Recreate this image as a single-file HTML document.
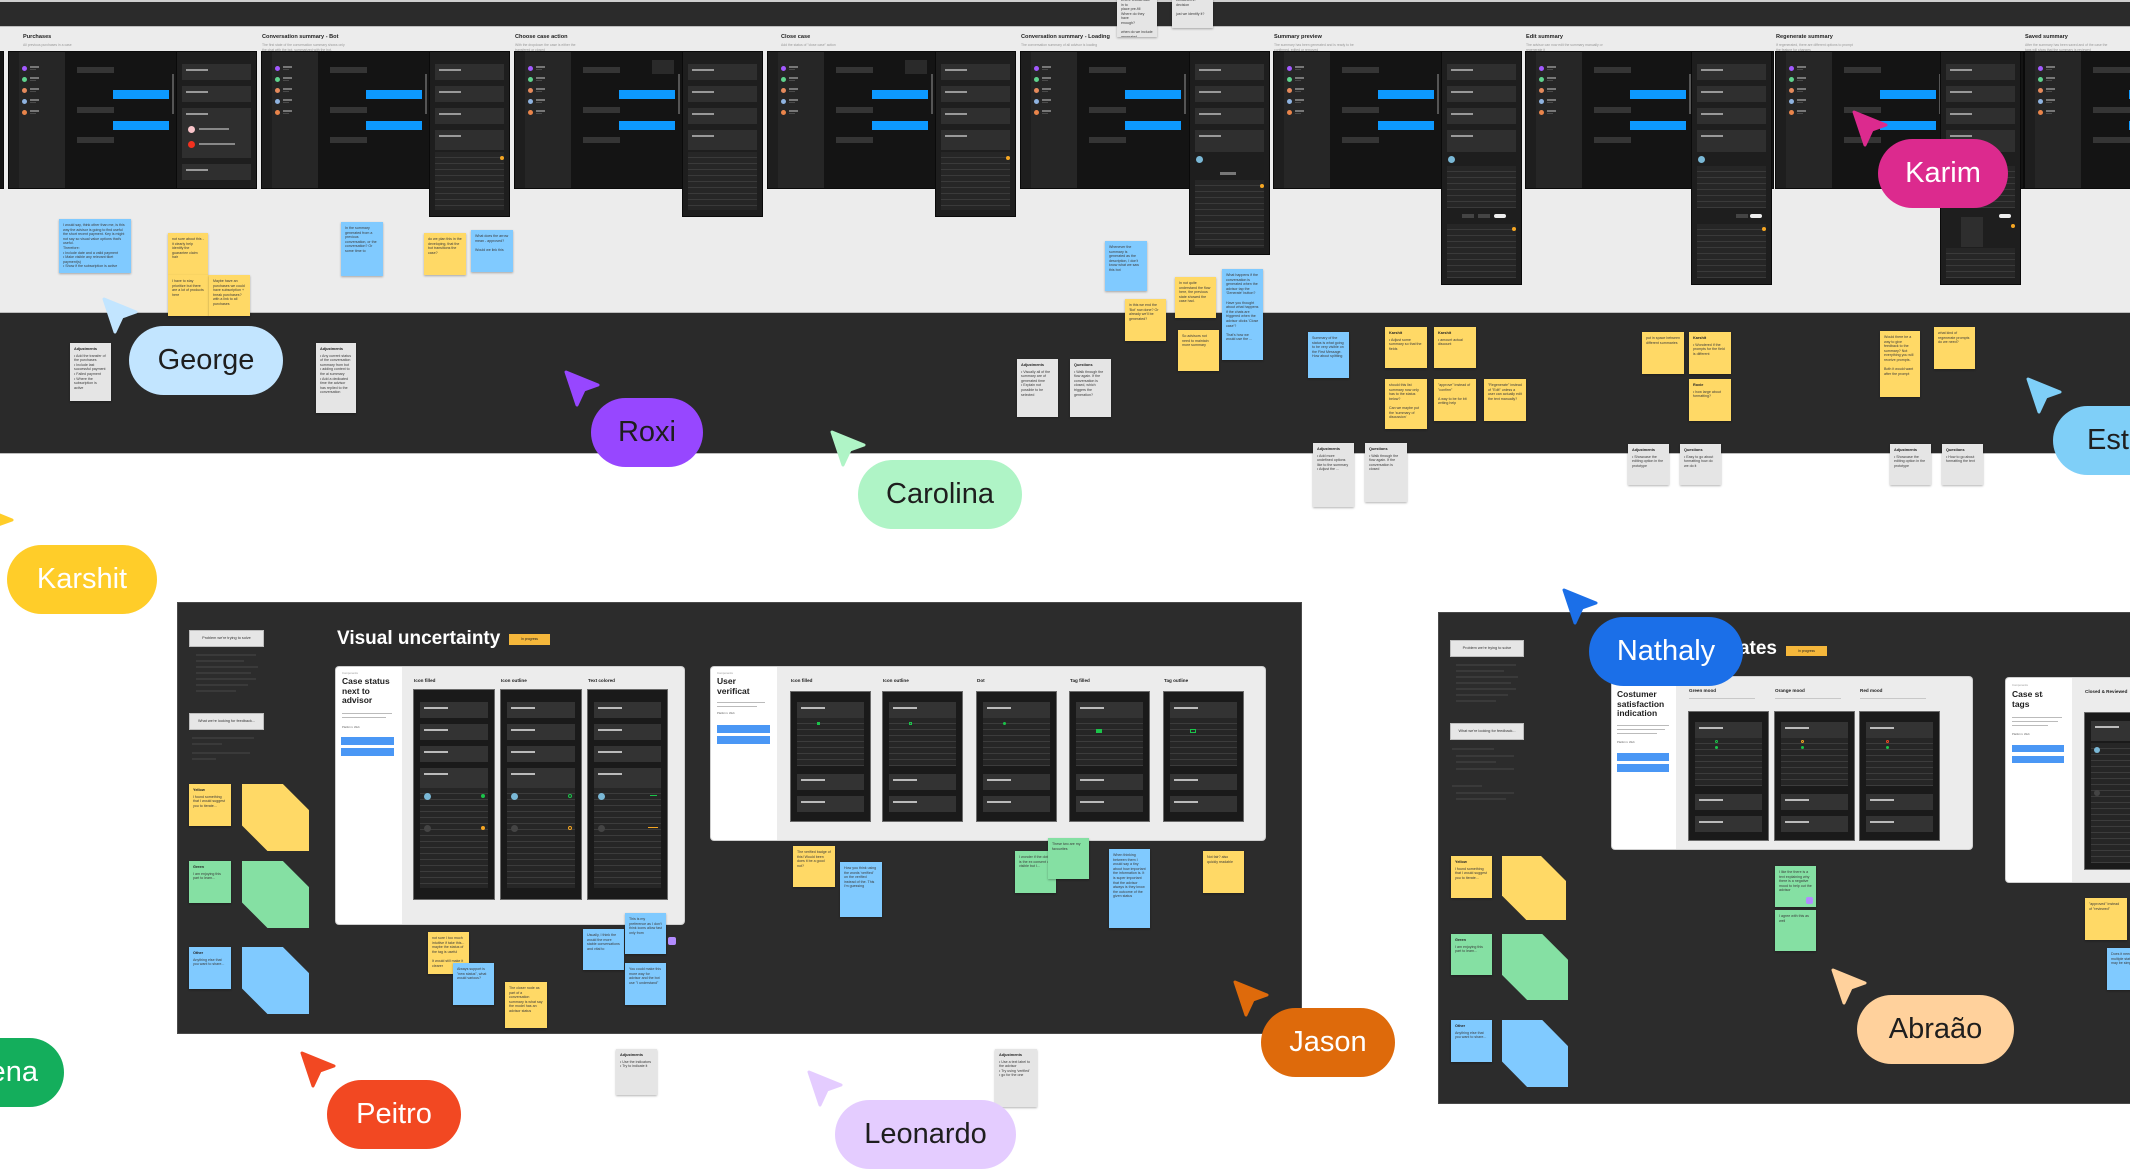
<!DOCTYPE html>
<html><head><meta charset="utf-8"><style>
*{box-sizing:border-box}
body{margin:0;width:2130px;height:1166px;overflow:hidden;position:relative;background:#fff;font-family:"Liberation Sans",sans-serif}
.a{position:absolute}
.s{position:absolute;box-shadow:0 1px 2px rgba(0,0,0,.3);font-size:3.6px;line-height:4.6px;color:#3a3a3a;padding:4px;overflow:hidden}
.y{background:#ffd966}.b{background:#80caff}.g{background:#85e0a3}.n{background:#e5e5e5}
.s b{display:block;font-size:3.8px;margin-bottom:2px;color:#222}
.stk{position:absolute;clip-path:polygon(0 0,61% 0,100% 39%,100% 100%,38% 100%,0 62%)}
.ft{position:absolute;top:34px;font-size:5.6px;font-weight:bold;color:#222;white-space:nowrap}
.fs{position:absolute;top:43px;font-size:3.4px;color:#999;white-space:nowrap;line-height:4.5px}
.scr{position:absolute;top:52px;width:247px;height:136px;background:#141414;box-shadow:0 0 0 1px #0a0a0a}
.scr i,.rp i,.ph i{position:absolute;display:block}
.scr .r{left:0;top:0;width:10px;height:136px;background:#1e1e1e}
.scr .l{left:10px;top:0;width:46px;height:136px;background:#262626}
.scr .l b{position:absolute;left:3px;width:5px;height:5px;border-radius:50%}
.scr .l b::after{content:"";position:absolute;left:8px;top:0;width:9px;height:1.5px;background:#777}
.scr .l b::before{content:"";position:absolute;left:8px;top:3px;width:6px;height:1px;background:#4a4a4a}
.scr .gb{left:68px;width:37px;height:6px;background:#353535}
.scr .bb{left:104px;width:56px;height:9px;background:#0d99ff}
.scr .sb{left:163px;top:22px;width:1.5px;height:40px;background:#555}
.rp{position:absolute;top:52px;width:79px;background:#1e1e1e;box-shadow:0 0 0 1px #0a0a0a}
.rp .c{left:5px;width:69px;height:16px;background:#2f2f2f}
.rp .c::after{content:"";position:absolute;left:4px;top:5px;width:22px;height:2px;background:#999}
.rp .k{left:5px;width:69px;background:#262626;background-image:repeating-linear-gradient(#262626 0 5px,#3a3a3a 5px 6px)}
.fr{position:absolute;background:#2c2c2c;border:1px solid #4a4a4a}
.pb{position:absolute;width:75px;height:17px;background:#e6e6e6;border:1px solid #bdbdbd;font-size:3.8px;color:#333;text-align:center;line-height:15px;white-space:nowrap}
.fl{position:absolute;height:2px;background:#3a3a3a}
.cd{position:absolute;background:#ececec;border-radius:3px;box-shadow:0 0 0 1px #cfcfcf;overflow:hidden}
.cd .w{position:absolute;left:0;top:0;bottom:0;background:#fff}
.ct{position:absolute;font-size:8.5px;line-height:9.7px;font-weight:bold;color:#1e1e1e;white-space:nowrap;overflow:hidden}
.cl{position:absolute;font-size:4.6px;font-weight:bold;color:#222;white-space:nowrap}
.tiny{position:absolute;font-size:2.8px;color:#999;white-space:nowrap}
.btn{position:absolute;width:53px;height:8px;background:#4a97f5}
.ph{position:absolute;background:#1a1a1a;box-shadow:0 0 0 1px #6a6a6a}
.ph .c{left:6px;right:6px;height:16px;background:#333}
.ph .c::after{content:"";position:absolute;left:4px;top:5px;width:24px;height:2px;background:#bbb}
.ph .k{left:6px;right:6px;background:#262626;background-image:repeating-linear-gradient(#262626 0 5px,#3c3c3c 5px 6px)}
.tag{position:absolute;background:#f5b73b;font-size:3.4px;color:#222;text-align:center;white-space:nowrap}
.p{position:absolute;height:69px;border-radius:35px;font-size:29px;line-height:69px;text-align:center;white-space:nowrap;overflow:hidden}
</style></head><body>

<!-- top dark band -->
<div class="a" style="left:0;top:0;width:2130px;height:2px;background:#cfcfcf"></div>
<div class="a" style="left:0;top:2px;width:2130px;height:24px;background:#2b2b2b"></div>
<!-- light band -->
<div class="a" style="left:0;top:26px;width:2130px;height:286px;background:#ececec;border-top:1px solid #bdbdbd"></div>
<!-- middle dark band -->
<div class="a" style="left:0;top:312px;width:2130px;height:142px;background:#2a2a2a;border-top:1px solid #bdbdbd;border-bottom:1px solid #bdbdbd"></div>

<!-- frame titles -->
<div class="ft" style="left:23px">Purchases</div><div class="fs" style="left:23px">All previous purchases in a case</div>
<div class="ft" style="left:262px">Conversation summary - Bot</div><div class="fs" style="left:262px">The first state of the conversation summary shows only<br>the chat with the bot, summarized with the bot.</div>
<div class="ft" style="left:515px">Choose case action</div><div class="fs" style="left:515px">With the dropdown the case is either the<br>transfered or closed</div>
<div class="ft" style="left:781px">Close case</div><div class="fs" style="left:781px">Add the status of "close case" action</div>
<div class="ft" style="left:1021px">Conversation summary - Loading</div><div class="fs" style="left:1021px">The conversation summary of all advisor is loading</div>
<div class="ft" style="left:1274px">Summary preview</div><div class="fs" style="left:1274px">The summary has been generated and is ready to be<br>confirmed, edited or removed</div>
<div class="ft" style="left:1526px">Edit summary</div><div class="fs" style="left:1526px">The advisor can now edit the summary manually or<br>regenerate it</div>
<div class="ft" style="left:1776px">Regenerate summary</div><div class="fs" style="left:1776px">If regenerated, there are different options to prompt<br>the feature for changes</div>
<div class="ft" style="left:2025px">Saved summary</div><div class="fs" style="left:2025px">After the summary has been saved and of the case the<br>tags will show that the summary is reviewed</div>

<!-- screens -->
<div class="scr" style="left:-244px"><i class="r"></i><i class="l"><b style="top:14px;background:#a259ff"></b><b style="top:25px;background:#5fd38d"></b><b style="top:36px;background:#e58a5c"></b></i><i class="gb" style="top:15px"></i><i class="bb" style="top:38px"></i></div>

<div class="scr" style="left:9px"><i class="r"></i><i class="l"><b style="top:14px;background:#a259ff"></b><b style="top:25px;background:#5fd38d"></b><b style="top:36px;background:#e58a5c"></b><b style="top:47px;background:#8fb3e0"></b><b style="top:58px;background:#e9844a"></b></i><i class="gb" style="top:15px"></i><i class="bb" style="top:38px"></i><i class="gb" style="top:55px"></i><i class="bb" style="top:69px"></i><i class="gb" style="top:85px"></i><i class="sb"></i></div>
<div class="rp" style="left:177px;height:136px"><i class="c" style="top:12px"></i><i class="c" style="top:34px"></i><i class="c" style="top:56px;height:50px"></i><i style="left:11px;top:74px;width:7px;height:7px;border-radius:50%;background:#f9c4c9"></i><i style="left:11px;top:89px;width:7px;height:7px;border-radius:50%;background:#f2311f"></i><i style="left:22px;top:76px;width:30px;height:2px;background:#888"></i><i style="left:22px;top:91px;width:36px;height:2px;background:#888"></i><i class="c" style="top:112px"></i></div>

<div class="scr" style="left:262px"><i class="r"></i><i class="l"><b style="top:14px;background:#a259ff"></b><b style="top:25px;background:#5fd38d"></b><b style="top:36px;background:#e58a5c"></b><b style="top:47px;background:#8fb3e0"></b><b style="top:58px;background:#e9844a"></b></i><i class="gb" style="top:15px"></i><i class="bb" style="top:38px"></i><i class="gb" style="top:55px"></i><i class="bb" style="top:69px"></i><i class="gb" style="top:85px"></i><i class="sb"></i></div>
<div class="rp" style="left:430px;height:164px"><i class="c" style="top:12px"></i><i class="c" style="top:34px"></i><i class="c" style="top:56px"></i><i class="c" style="top:78px;height:20px"></i><i class="k" style="top:100px;height:58px"></i><i style="left:70px;top:104px;width:4px;height:4px;border-radius:50%;background:#f5a623"></i></div>

<div class="scr" style="left:515px"><i class="r"></i><i class="l"><b style="top:14px;background:#a259ff"></b><b style="top:25px;background:#5fd38d"></b><b style="top:36px;background:#e58a5c"></b><b style="top:47px;background:#8fb3e0"></b><b style="top:58px;background:#e9844a"></b></i><i class="gb" style="top:15px"></i><i class="bb" style="top:38px"></i><i class="gb" style="top:55px"></i><i class="bb" style="top:69px"></i><i class="gb" style="top:85px"></i><i class="sb"></i><i style="left:137px;top:8px;width:22px;height:14px;background:#2a2a2a"></i></div>
<div class="rp" style="left:683px;height:164px"><i class="c" style="top:12px"></i><i class="c" style="top:34px"></i><i class="c" style="top:56px"></i><i class="c" style="top:78px;height:20px"></i><i class="k" style="top:100px;height:58px"></i></div>

<div class="scr" style="left:768px"><i class="r"></i><i class="l"><b style="top:14px;background:#a259ff"></b><b style="top:25px;background:#5fd38d"></b><b style="top:36px;background:#e58a5c"></b><b style="top:47px;background:#8fb3e0"></b><b style="top:58px;background:#e9844a"></b></i><i class="gb" style="top:15px"></i><i class="bb" style="top:38px"></i><i class="gb" style="top:55px"></i><i class="bb" style="top:69px"></i><i class="gb" style="top:85px"></i><i class="sb"></i><i style="left:137px;top:8px;width:22px;height:14px;background:#2a2a2a"></i></div>
<div class="rp" style="left:936px;height:164px"><i class="c" style="top:12px"></i><i class="c" style="top:34px"></i><i class="c" style="top:56px"></i><i class="c" style="top:78px;height:20px"></i><i class="k" style="top:100px;height:58px"></i><i style="left:70px;top:104px;width:4px;height:4px;border-radius:50%;background:#f5a623"></i></div>

<div class="scr" style="left:1021px"><i class="r"></i><i class="l"><b style="top:14px;background:#a259ff"></b><b style="top:25px;background:#5fd38d"></b><b style="top:36px;background:#e58a5c"></b><b style="top:47px;background:#8fb3e0"></b><b style="top:58px;background:#e9844a"></b></i><i class="gb" style="top:15px"></i><i class="bb" style="top:38px"></i><i class="gb" style="top:55px"></i><i class="bb" style="top:69px"></i><i class="gb" style="top:85px"></i><i class="sb"></i></div>
<div class="rp" style="left:1190px;height:202px"><i class="c" style="top:12px"></i><i class="c" style="top:34px"></i><i class="c" style="top:56px"></i><i class="c" style="top:78px;height:22px"></i><i style="left:6px;top:104px;width:7px;height:7px;border-radius:50%;background:#7ab8d6"></i><i style="left:30px;top:120px;width:16px;height:3px;background:#777"></i><i class="k" style="top:128px;height:68px"></i><i style="left:70px;top:132px;width:4px;height:4px;border-radius:50%;background:#f5a623"></i></div>

<div class="scr" style="left:1274px"><i class="r"></i><i class="l"><b style="top:14px;background:#a259ff"></b><b style="top:25px;background:#5fd38d"></b><b style="top:36px;background:#e58a5c"></b><b style="top:47px;background:#8fb3e0"></b><b style="top:58px;background:#e9844a"></b></i><i class="gb" style="top:15px"></i><i class="bb" style="top:38px"></i><i class="gb" style="top:55px"></i><i class="bb" style="top:69px"></i><i class="gb" style="top:85px"></i><i class="sb"></i></div>
<div class="rp" style="left:1442px;height:232px"><i class="c" style="top:12px"></i><i class="c" style="top:34px"></i><i class="c" style="top:56px"></i><i class="c" style="top:78px;height:22px"></i><i style="left:6px;top:104px;width:7px;height:7px;border-radius:50%;background:#7ab8d6"></i><i class="k" style="top:114px;height:42px"></i><i style="left:20px;top:162px;width:12px;height:4px;background:#444"></i><i style="left:36px;top:162px;width:12px;height:4px;background:#444"></i><i style="left:52px;top:162px;width:12px;height:4px;background:#eee;border-radius:2px"></i><i class="k" style="top:172px;height:54px"></i><i style="left:70px;top:175px;width:4px;height:4px;border-radius:50%;background:#f5a623"></i></div>

<div class="scr" style="left:1526px"><i class="r"></i><i class="l"><b style="top:14px;background:#a259ff"></b><b style="top:25px;background:#5fd38d"></b><b style="top:36px;background:#e58a5c"></b><b style="top:47px;background:#8fb3e0"></b><b style="top:58px;background:#e9844a"></b></i><i class="gb" style="top:15px"></i><i class="bb" style="top:38px"></i><i class="gb" style="top:55px"></i><i class="bb" style="top:69px"></i><i class="gb" style="top:85px"></i><i class="sb"></i></div>
<div class="rp" style="left:1692px;height:232px"><i class="c" style="top:12px"></i><i class="c" style="top:34px"></i><i class="c" style="top:56px"></i><i class="c" style="top:78px;height:22px"></i><i style="left:6px;top:104px;width:7px;height:7px;border-radius:50%;background:#7ab8d6"></i><i class="k" style="top:114px;height:42px;background-color:#151515"></i><i style="left:44px;top:162px;width:12px;height:4px;background:#444"></i><i style="left:58px;top:162px;width:12px;height:4px;background:#eee;border-radius:2px"></i><i class="k" style="top:172px;height:54px"></i><i style="left:70px;top:175px;width:4px;height:4px;border-radius:50%;background:#f5a623"></i></div>

<div class="scr" style="left:1776px"><i class="r"></i><i class="l"><b style="top:14px;background:#a259ff"></b><b style="top:25px;background:#5fd38d"></b><b style="top:36px;background:#e58a5c"></b><b style="top:47px;background:#8fb3e0"></b><b style="top:58px;background:#e9844a"></b></i><i class="gb" style="top:15px"></i><i class="bb" style="top:38px"></i><i class="gb" style="top:55px"></i><i class="bb" style="top:69px"></i><i class="gb" style="top:85px"></i><i class="sb"></i></div>
<div class="rp" style="left:1941px;height:232px"><i class="c" style="top:12px"></i><i class="c" style="top:34px"></i><i class="c" style="top:56px"></i><i class="c" style="top:78px;height:22px"></i><i class="k" style="top:114px;height:42px"></i><i style="left:20px;top:165px;width:22px;height:30px;background:#2e2e2e"></i><i style="left:58px;top:162px;width:12px;height:4px;background:#eee;border-radius:2px"></i><i class="k" style="top:196px;height:30px"></i><i style="left:70px;top:172px;width:4px;height:4px;border-radius:50%;background:#f5a623"></i></div>

<div class="scr" style="left:2025px"><i class="r"></i><i class="l"><b style="top:14px;background:#a259ff"></b><b style="top:25px;background:#5fd38d"></b><b style="top:36px;background:#e58a5c"></b><b style="top:47px;background:#8fb3e0"></b><b style="top:58px;background:#e9844a"></b></i><i class="gb" style="top:15px"></i><i class="bb" style="top:38px"></i><i class="gb" style="top:55px"></i><i class="bb" style="top:69px"></i><i class="gb" style="top:85px"></i></div>

<!-- top band gray notes -->
<div class="s n" style="left:1117px;top:-6px;width:40px;height:43px">where should take in to<br>place pre-fill<br>Where do they have<br>enough?<br><br>when do we include<br>generated summary?</div>
<div class="s n" style="left:1172px;top:-6px;width:41px;height:34px">contained in decision<br><br>just we identify it?</div>

<!-- light band stickies -->
<div class="s b" style="left:59px;top:219px;width:72px;height:54px">I would say, think other than me, is this way the advisor is going to find useful the short recent payment. Key is might not say so visual value options that's useful.<br>Therefore:<br>• Include date and a valid payment<br>• Make visible any relevant tiket payment(s)<br>• Show if the subscription is active</div>
<div class="s y" style="left:168px;top:233px;width:40px;height:42px">not sure about this - it clearly help identify the guarantee claim hair</div>
<div class="s y" style="left:168px;top:275px;width:41px;height:41px">I have to stay prioritize but there are a lot of products here</div>
<div class="s y" style="left:209px;top:275px;width:41px;height:41px">Maybe have an purchases we could have subscription + break purchases?<br>with a link to all purchases</div>
<div class="s b" style="left:341px;top:222px;width:42px;height:54px">In the summary generated from a previous conversation, or the conversation? Or some time to</div>
<div class="s y" style="left:424px;top:233px;width:42px;height:42px">do we plan this in the developing, that the bot transitions the case?</div>
<div class="s b" style="left:471px;top:230px;width:42px;height:42px">What does the arrow mean - approved?<br><br>Would we link this</div>
<div class="s b" style="left:1105px;top:241px;width:42px;height:50px">Whenever the summary is generated as the description, I don't know what we saw this bot</div>
<div class="s y" style="left:1175px;top:277px;width:41px;height:41px">In not quite understand the flow here, the previous state showed the case had.</div>
<div class="s y" style="left:1125px;top:299px;width:41px;height:42px">in this we end the 'Bot' row done? Or already we'll be generated?</div>
<div class="s y" style="left:1178px;top:330px;width:41px;height:41px">So advisors not need to maintain more summary</div>
<div class="s b" style="left:1222px;top:269px;width:41px;height:91px">What happens if the conversation is generated when the advisor tap the 'Generate' button?<br><br>Have you thought about what happens if the chats are triggered when the advisor clicks 'Close case'?<br><br>That's how we would use the ...</div>

<!-- middle band notes -->
<div class="s n" style="left:70px;top:343px;width:41px;height:58px"><b>Adjustments</b>• Add the transfer of the purchases<br>• Include last successful payment<br>• Failed payment<br>• Where the subscription is active</div>
<div class="s n" style="left:316px;top:343px;width:40px;height:70px"><b>Adjustments</b>• Any current status of the conversation summary from bot<br>• adding context to the ai summary<br>• Add a dedicated time the advisor has replied to the conversation</div>
<div class="s n" style="left:1017px;top:359px;width:41px;height:58px"><b>Adjustments</b>• Visually all of the summary are of generated time<br>• Explain not possible to be selected</div>
<div class="s n" style="left:1070px;top:359px;width:41px;height:58px"><b>Questions</b>• Walk through the flow again. If the conversation is closed, which triggers the generation?</div>
<div class="s b" style="left:1308px;top:332px;width:41px;height:46px">Summary of the status is what going to be very visible on the First Message.<br>How about splitting</div>
<div class="s y" style="left:1385px;top:327px;width:42px;height:41px"><b>Karshit</b>• Adjust some summary so that the fields</div>
<div class="s y" style="left:1434px;top:327px;width:42px;height:41px"><b>Karshit</b>• amount actual discount</div>
<div class="s y" style="left:1385px;top:379px;width:42px;height:50px">should this list summary now only has to the status below?<br><br>Can we maybe put the 'summary of discussion'</div>
<div class="s y" style="left:1434px;top:379px;width:42px;height:42px">"approve" instead of "confirm"<br><br>A way to be for bit writing help</div>
<div class="s y" style="left:1484px;top:379px;width:42px;height:42px">"Regenerate" instead of "Edit" unless a user can actually edit the text manually?</div>
<div class="s y" style="left:1642px;top:332px;width:42px;height:42px">put in space between different summaries</div>
<div class="s y" style="left:1689px;top:332px;width:42px;height:42px"><b>Karshit</b>• Wondered if the prompts for the field is different</div>
<div class="s y" style="left:1689px;top:379px;width:42px;height:42px"><b>Roxie</b>• how large about formatting?</div>
<div class="s y" style="left:1880px;top:331px;width:40px;height:66px">Would there be a way to give feedback to the summary? Not everything you will receive prompts.<br><br>Both it would want after the prompt</div>
<div class="s y" style="left:1934px;top:327px;width:41px;height:42px">what kind of regenerate prompts do we need?</div>
<div class="s n" style="left:1313px;top:443px;width:41px;height:64px"><b>Adjustments</b>• Add more undefined options like to the summary<br>• Adjust the ...</div>
<div class="s n" style="left:1365px;top:443px;width:42px;height:59px"><b>Questions</b>• Walk through the flow again. If the conversation is closed</div>
<div class="s n" style="left:1628px;top:444px;width:41px;height:41px"><b>Adjustments</b>• Showcase the editing option in the prototype</div>
<div class="s n" style="left:1680px;top:444px;width:41px;height:41px"><b>Questions</b>• Easy to go about formatting how do we do it</div>
<div class="s n" style="left:1890px;top:444px;width:41px;height:41px"><b>Adjustments</b>• Showcase the editing option in the prototype</div>
<div class="s n" style="left:1942px;top:444px;width:41px;height:41px"><b>Questions</b>• How to go about formatting the text</div>

<!-- Frame 1: Visual uncertainty -->
<div class="fr" style="left:177px;top:602px;width:1125px;height:432px"></div>
<div class="pb" style="left:189px;top:630px">Problem we're trying to solve</div>
<div class="fl" style="left:196px;top:654px;width:60px"></div><div class="fl" style="left:196px;top:660px;width:48px"></div><div class="fl" style="left:196px;top:666px;width:62px"></div><div class="fl" style="left:196px;top:672px;width:55px"></div><div class="fl" style="left:196px;top:678px;width:60px"></div><div class="fl" style="left:196px;top:684px;width:52px"></div><div class="fl" style="left:196px;top:690px;width:40px"></div>
<div class="pb" style="left:189px;top:713px">What we're looking for feedback...</div>
<div class="fl" style="left:192px;top:737px;width:62px"></div><div class="fl" style="left:192px;top:743px;width:30px"></div><div class="fl" style="left:192px;top:752px;width:58px"></div><div class="fl" style="left:192px;top:758px;width:24px"></div>
<div class="a" style="left:337px;top:629px;font-size:19px;line-height:19px;font-weight:bold;color:#fff;white-space:nowrap">Visual uncertainty</div>
<div class="tag" style="left:509px;top:634px;width:41px;height:11px;line-height:11px">In progress</div>

<div class="cd" style="left:336px;top:667px;width:348px;height:257px"><div class="w" style="width:66px"></div></div>
<div class="tiny" style="left:342px;top:671px">Components</div>
<div class="ct" style="left:342px;top:677px">Case status<br>next to<br>advisor</div>
<div class="fl" style="left:342px;top:713px;width:50px;height:1px;background:#bbb"></div><div class="fl" style="left:342px;top:717px;width:44px;height:1px;background:#bbb"></div>
<div class="tiny" style="left:342px;top:725px;color:#666">Platform: Web</div>
<div class="btn" style="left:341px;top:737px"></div><div class="btn" style="left:341px;top:748px"></div>
<div class="cl" style="left:414px;top:678px">Icon filled</div><div class="cl" style="left:501px;top:678px">Icon outline</div><div class="cl" style="left:588px;top:678px">Text colored</div>

<div class="ph" style="left:414px;top:690px;width:80px;height:209px"><i class="c" style="top:12px"></i><i class="c" style="top:34px"></i><i class="c" style="top:56px"></i><i class="c" style="top:78px;height:20px"></i><i class="k" style="top:98px;height:100px"></i><i style="left:10px;top:103px;width:7px;height:7px;border-radius:50%;background:#7ab8d6"></i><i style="left:10px;top:135px;width:7px;height:7px;border-radius:50%;background:#444"></i><i style="left:67px;top:104px;width:4px;height:4px;border-radius:50%;background:#1bc44a"></i><i style="left:67px;top:136px;width:4px;height:4px;border-radius:50%;background:#f5a623"></i></div>
<div class="ph" style="left:501px;top:690px;width:80px;height:209px"><i class="c" style="top:12px"></i><i class="c" style="top:34px"></i><i class="c" style="top:56px"></i><i class="c" style="top:78px;height:20px"></i><i class="k" style="top:98px;height:100px"></i><i style="left:10px;top:103px;width:7px;height:7px;border-radius:50%;background:#7ab8d6"></i><i style="left:10px;top:135px;width:7px;height:7px;border-radius:50%;background:#444"></i><i style="left:67px;top:104px;width:4px;height:4px;border-radius:50%;border:1px solid #1bc44a"></i><i style="left:67px;top:136px;width:4px;height:4px;border-radius:50%;border:1px solid #f5a623"></i></div>
<div class="ph" style="left:588px;top:690px;width:79px;height:209px"><i class="c" style="top:12px"></i><i class="c" style="top:34px"></i><i class="c" style="top:56px"></i><i class="c" style="top:78px;height:20px"></i><i class="k" style="top:98px;height:100px"></i><i style="left:10px;top:103px;width:7px;height:7px;border-radius:50%;background:#7ab8d6"></i><i style="left:10px;top:135px;width:7px;height:7px;border-radius:50%;background:#444"></i><i style="left:62px;top:105px;width:7px;height:1px;background:#1bc44a"></i><i style="left:60px;top:137px;width:10px;height:1px;background:#f5a623"></i></div>

<div class="cd" style="left:711px;top:667px;width:554px;height:173px"><div class="w" style="width:66px"></div></div>
<div class="tiny" style="left:717px;top:671px">Components</div>
<div class="ct" style="left:717px;top:677px;width:33px">User<br>verification</div>
<div class="fl" style="left:717px;top:702px;width:48px;height:1px;background:#bbb"></div><div class="fl" style="left:717px;top:706px;width:40px;height:1px;background:#bbb"></div>
<div class="tiny" style="left:717px;top:711px;color:#666">Platform: Web</div>
<div class="btn" style="left:717px;top:725px"></div><div class="btn" style="left:717px;top:736px"></div>
<div class="cl" style="left:791px;top:678px">Icon filled</div><div class="cl" style="left:883px;top:678px">Icon outline</div><div class="cl" style="left:977px;top:678px">Dot</div><div class="cl" style="left:1070px;top:678px">Tag filled</div><div class="cl" style="left:1164px;top:678px">Tag outline</div>
<div class="ph" style="left:791px;top:692px;width:79px;height:129px"><i class="c" style="top:10px"></i><i class="k" style="top:26px;height:48px"></i><i style="left:26px;top:30px;width:3px;height:3px;background:#1bc44a"></i><i class="c" style="top:82px"></i><i class="c" style="top:104px"></i></div>
<div class="ph" style="left:883px;top:692px;width:79px;height:129px"><i class="c" style="top:10px"></i><i class="k" style="top:26px;height:48px"></i><i style="left:26px;top:30px;width:3px;height:3px;border:1px solid #1bc44a"></i><i class="c" style="top:82px"></i><i class="c" style="top:104px"></i></div>
<div class="ph" style="left:977px;top:692px;width:79px;height:129px"><i class="c" style="top:10px"></i><i class="k" style="top:26px;height:48px"></i><i style="left:26px;top:30px;width:3px;height:3px;border-radius:50%;background:#1bc44a"></i><i class="c" style="top:82px"></i><i class="c" style="top:104px"></i></div>
<div class="ph" style="left:1070px;top:692px;width:79px;height:129px"><i class="c" style="top:10px"></i><i class="k" style="top:26px;height:48px"></i><i style="left:26px;top:37px;width:6px;height:4px;background:#1bc44a"></i><i class="c" style="top:82px"></i><i class="c" style="top:104px"></i></div>
<div class="ph" style="left:1164px;top:692px;width:79px;height:129px"><i class="c" style="top:10px"></i><i class="k" style="top:26px;height:48px"></i><i style="left:26px;top:37px;width:6px;height:4px;border:1px solid #1bc44a"></i><i class="c" style="top:82px"></i><i class="c" style="top:104px"></i></div>

<!-- frame 1 stickies -->
<div class="s y" style="left:189px;top:784px;width:42px;height:42px"><b>Yellow</b>I found something that I would suggest you to iterate...</div>
<div class="stk" style="left:242px;top:784px;width:67px;height:67px;background:#ffd966"></div>
<div class="s g" style="left:189px;top:861px;width:42px;height:42px"><b>Green</b>I am enjoying this part to learn...</div>
<div class="stk" style="left:242px;top:861px;width:67px;height:67px;background:#85e0a3"></div>
<div class="s b" style="left:189px;top:947px;width:42px;height:42px"><b>Other</b>Anything else that you want to share...</div>
<div class="stk" style="left:242px;top:947px;width:67px;height:67px;background:#80caff"></div>

<div class="s y" style="left:428px;top:932px;width:41px;height:42px">not sure I too much intuitive if take this... maybe the status of the tag is useful<br><br>It would still make it clearer</div>
<div class="s b" style="left:453px;top:963px;width:41px;height:42px">Always support is "new status", what would various?</div>
<div class="s y" style="left:505px;top:982px;width:42px;height:46px">The closer node as part of a conversation summary is what say the model has an advisor status</div>
<div class="s b" style="left:583px;top:929px;width:41px;height:41px">Usually, I think the would the more stable conversations and vital to</div>
<div class="s b" style="left:625px;top:913px;width:41px;height:41px">This is my preference as I don't think icons allow fast only from</div>
<div class="s b" style="left:625px;top:963px;width:41px;height:42px">You could make this more way for advisor and the bot use "I understand"</div>
<div class="a" style="left:668px;top:937px;width:8px;height:8px;background:#b38cff;border-radius:2px"></div>

<div class="s y" style="left:793px;top:846px;width:42px;height:41px">The verified badge of this! Would been does it be a good not?</div>
<div class="s b" style="left:840px;top:862px;width:42px;height:55px">How you think using the words 'verified' on the verified instead of the. This I'm guessing</div>
<div class="s g" style="left:1015px;top:851px;width:41px;height:42px">I wonder if the dots is the ex consent or visible but I...</div>
<div class="s g" style="left:1048px;top:838px;width:41px;height:41px">These two are my favourites</div>
<div class="s b" style="left:1109px;top:849px;width:41px;height:79px">When thinking between them I would say a tiny about how important the information is. It is super important that the advisor always is they know the outcome of the given status</div>
<div class="s y" style="left:1203px;top:851px;width:41px;height:42px">Not fair? also quickly readable</div>

<div class="s n" style="left:616px;top:1049px;width:41px;height:46px"><b>Adjustments</b>• Use the indicators<br>• Try to indicate it</div>
<div class="s n" style="left:995px;top:1049px;width:42px;height:58px"><b>Adjustments</b>• Use a text label to the advisor<br>• Try using 'verified'<br>• go for the one</div>

<!-- Frame 2 -->
<div class="fr" style="left:1438px;top:612px;width:710px;height:492px"></div>
<div class="pb" style="left:1450px;top:640px;width:74px">Problem we're trying to solve</div>
<div class="fl" style="left:1456px;top:664px;width:60px"></div><div class="fl" style="left:1456px;top:670px;width:48px"></div><div class="fl" style="left:1456px;top:676px;width:62px"></div><div class="fl" style="left:1456px;top:682px;width:55px"></div><div class="fl" style="left:1456px;top:688px;width:60px"></div><div class="fl" style="left:1456px;top:694px;width:52px"></div><div class="fl" style="left:1456px;top:700px;width:40px"></div>
<div class="pb" style="left:1450px;top:723px;width:74px">What we're looking for feedback...</div>
<div class="fl" style="left:1452px;top:748px;width:42px"></div><div class="fl" style="left:1456px;top:755px;width:58px"></div><div class="fl" style="left:1456px;top:761px;width:40px"></div><div class="fl" style="left:1456px;top:768px;width:58px"></div><div class="fl" style="left:1452px;top:785px;width:30px"></div><div class="fl" style="left:1456px;top:792px;width:58px"></div><div class="fl" style="left:1456px;top:798px;width:50px"></div>
<div class="a" style="left:1557px;top:639px;width:220px;text-align:right;font-size:19px;line-height:19px;font-weight:bold;color:#fff;white-space:nowrap">Satisfaction states</div>
<div class="tag" style="left:1786px;top:646px;width:41px;height:10px;line-height:10px">In progress</div>

<div class="cd" style="left:1612px;top:677px;width:360px;height:172px"><div class="w" style="width:64px"></div></div>
<div class="ct" style="left:1617px;top:690px">Costumer<br>satisfaction<br>indication</div>
<div class="fl" style="left:1617px;top:725px;width:52px;height:1px;background:#bbb"></div><div class="fl" style="left:1617px;top:729px;width:48px;height:1px;background:#bbb"></div><div class="fl" style="left:1617px;top:733px;width:40px;height:1px;background:#bbb"></div>
<div class="tiny" style="left:1617px;top:740px;color:#666">Platform: Web</div>
<div class="btn" style="left:1617px;top:753px;width:52px"></div><div class="btn" style="left:1617px;top:764px;width:52px"></div>
<div class="cl" style="left:1689px;top:688px">Green mood</div><div class="cl" style="left:1775px;top:688px">Orange mood</div><div class="cl" style="left:1860px;top:688px">Red mood</div>
<div class="fl" style="left:1689px;top:698px;width:66px;height:1px;background:#c8c8c8"></div><div class="fl" style="left:1775px;top:698px;width:66px;height:1px;background:#c8c8c8"></div><div class="fl" style="left:1860px;top:698px;width:66px;height:1px;background:#c8c8c8"></div>
<div class="ph" style="left:1689px;top:712px;width:79px;height:128px"><i class="c" style="top:10px"></i><i class="k" style="top:26px;height:48px"></i><i style="left:26px;top:28px;width:3px;height:3px;border-radius:50%;border:1px solid #1bc44a"></i><i style="left:26px;top:34px;width:3px;height:3px;border-radius:50%;background:#1bc44a"></i><i class="c" style="top:82px"></i><i class="c" style="top:104px"></i></div>
<div class="ph" style="left:1775px;top:712px;width:79px;height:128px"><i class="c" style="top:10px"></i><i class="k" style="top:26px;height:48px"></i><i style="left:26px;top:28px;width:3px;height:3px;border-radius:50%;border:1px solid #f5a623"></i><i style="left:26px;top:34px;width:3px;height:3px;border-radius:50%;background:#1bc44a"></i><i class="c" style="top:82px"></i><i class="c" style="top:104px"></i></div>
<div class="ph" style="left:1860px;top:712px;width:79px;height:128px"><i class="c" style="top:10px"></i><i class="k" style="top:26px;height:48px"></i><i style="left:26px;top:28px;width:3px;height:3px;border-radius:50%;border:1px solid #f24822"></i><i style="left:26px;top:34px;width:3px;height:3px;border-radius:50%;background:#1bc44a"></i><i class="c" style="top:82px"></i><i class="c" style="top:104px"></i></div>

<div class="cd" style="left:2006px;top:678px;width:140px;height:204px"><div class="w" style="width:66px"></div></div>
<div class="tiny" style="left:2012px;top:683px">Components</div>
<div class="ct" style="left:2012px;top:690px;width:31px">Case status<br>tags</div>
<div class="fl" style="left:2012px;top:717px;width:50px;height:1px;background:#bbb"></div><div class="fl" style="left:2012px;top:721px;width:46px;height:1px;background:#bbb"></div><div class="fl" style="left:2012px;top:725px;width:36px;height:1px;background:#bbb"></div>
<div class="tiny" style="left:2012px;top:732px;color:#666">Platform: Web</div>
<div class="btn" style="left:2012px;top:745px;width:52px;height:7px"></div><div class="btn" style="left:2012px;top:756px;width:52px;height:7px"></div>
<div class="cl" style="left:2085px;top:689px">Closed &amp; Reviewed</div>
<div class="ph" style="left:2085px;top:713px;width:80px;height:156px"><i class="c" style="top:8px;height:20px"></i><i class="k" style="top:30px;height:120px"></i><i style="left:9px;top:34px;width:6px;height:6px;border-radius:50%;background:#7ab8d6"></i><i style="left:9px;top:77px;width:6px;height:6px;border-radius:50%;background:#444"></i></div>

<div class="s y" style="left:1451px;top:856px;width:41px;height:42px"><b>Yellow</b>I found something that I would suggest you to iterate...</div>
<div class="stk" style="left:1502px;top:856px;width:64px;height:64px;background:#ffd966"></div>
<div class="s g" style="left:1451px;top:934px;width:41px;height:41px"><b>Green</b>I am enjoying this part to learn...</div>
<div class="stk" style="left:1502px;top:934px;width:66px;height:66px;background:#85e0a3"></div>
<div class="s b" style="left:1451px;top:1020px;width:41px;height:42px"><b>Other</b>Anything else that you want to share...</div>
<div class="stk" style="left:1502px;top:1020px;width:66px;height:67px;background:#80caff"></div>

<div class="s g" style="left:1775px;top:866px;width:41px;height:41px">I like the there is a text explaining why there is a negative mood to help out the advisor</div>
<div class="a" style="left:1806px;top:897px;width:7px;height:7px;background:#b38cff;border-radius:2px"></div>
<div class="s g" style="left:1775px;top:910px;width:41px;height:41px">I agree with this as well</div>
<div class="s y" style="left:2085px;top:898px;width:42px;height:42px">"approved" instead of "reviewed"</div>
<div class="s b" style="left:2107px;top:948px;width:42px;height:42px">Does it need to multiple status there may be simplified?</div>

<!-- cursors -->
<svg class="a" style="left:102px;top:297px" width="36" height="37" viewBox="0 0 36 37"><path d="M2 2 L34 15 L20 20 L13 35 Z" fill="#c2e5ff" stroke="#c2e5ff" stroke-width="3" stroke-linejoin="round"/></svg>
<svg class="a" style="left:564px;top:370px" width="36" height="37" viewBox="0 0 36 37"><path d="M2 2 L34 15 L20 20 L13 35 Z" fill="#9747ff" stroke="#9747ff" stroke-width="3" stroke-linejoin="round"/></svg>
<svg class="a" style="left:830px;top:430px" width="36" height="37" viewBox="0 0 36 37"><path d="M2 2 L34 15 L20 20 L13 35 Z" fill="#aff4c6" stroke="#aff4c6" stroke-width="3" stroke-linejoin="round"/></svg>
<svg class="a" style="left:1852px;top:110px" width="36" height="37" viewBox="0 0 36 37"><path d="M2 2 L34 15 L20 20 L13 35 Z" fill="#dc2a8e" stroke="#dc2a8e" stroke-width="3" stroke-linejoin="round"/></svg>
<svg class="a" style="left:2026px;top:377px" width="36" height="37" viewBox="0 0 36 37"><path d="M2 2 L34 15 L20 20 L13 35 Z" fill="#7fcff8" stroke="#7fcff8" stroke-width="3" stroke-linejoin="round"/></svg>
<svg class="a" style="left:-22px;top:505px" width="36" height="37" viewBox="0 0 36 37"><path d="M2 2 L34 15 L20 20 L13 35 Z" fill="#ffcd29" stroke="#ffcd29" stroke-width="3" stroke-linejoin="round"/></svg>
<svg class="a" style="left:300px;top:1051px" width="36" height="37" viewBox="0 0 36 37"><path d="M2 2 L34 15 L20 20 L13 35 Z" fill="#f24822" stroke="#f24822" stroke-width="3" stroke-linejoin="round"/></svg>
<svg class="a" style="left:807px;top:1070px" width="36" height="37" viewBox="0 0 36 37"><path d="M2 2 L34 15 L20 20 L13 35 Z" fill="#e4ccff" stroke="#e4ccff" stroke-width="3" stroke-linejoin="round"/></svg>
<svg class="a" style="left:1233px;top:980px" width="36" height="37" viewBox="0 0 36 37"><path d="M2 2 L34 15 L20 20 L13 35 Z" fill="#de6a0b" stroke="#de6a0b" stroke-width="3" stroke-linejoin="round"/></svg>
<svg class="a" style="left:1562px;top:588px" width="36" height="37" viewBox="0 0 36 37"><path d="M2 2 L34 15 L20 20 L13 35 Z" fill="#1b6fe8" stroke="#1b6fe8" stroke-width="3" stroke-linejoin="round"/></svg>
<svg class="a" style="left:1831px;top:968px" width="36" height="37" viewBox="0 0 36 37"><path d="M2 2 L34 15 L20 20 L13 35 Z" fill="#ffd19c" stroke="#ffd19c" stroke-width="3" stroke-linejoin="round"/></svg>

<!-- name pills -->
<div class="p" style="left:129px;top:326px;width:154px;background:#c2e5ff;color:#1e1e1e">George</div>
<div class="p" style="left:591px;top:398px;width:112px;background:#9747ff;color:#1e1e1e">Roxi</div>
<div class="p" style="left:858px;top:460px;width:164px;background:#aff4c6;color:#1e1e1e">Carolina</div>
<div class="p" style="left:1878px;top:139px;width:130px;background:#dc2a8e;color:#fff">Karim</div>
<div class="p" style="left:2053px;top:406px;width:160px;background:#7fcff8;color:#1e1e1e;text-align:left;padding-left:34px">Esther</div>
<div class="p" style="left:7px;top:545px;width:150px;background:#ffcd29;color:#fff">Karshit</div>
<div class="p" style="left:-80px;top:1038px;width:144px;background:#14ae5c;color:#fff">Helena</div>
<div class="p" style="left:327px;top:1080px;width:134px;background:#f24822;color:#fff">Peitro</div>
<div class="p" style="left:835px;top:1100px;width:181px;background:#e4ccff;color:#1e1e1e">Leonardo</div>
<div class="p" style="left:1261px;top:1008px;width:134px;background:#de6a0b;color:#fff">Jason</div>
<div class="p" style="left:1589px;top:617px;width:154px;background:#1b6fe8;color:#fff">Nathaly</div>
<div class="p" style="left:1857px;top:995px;width:157px;background:#ffd19c;color:#1e1e1e">Abraão</div>

</body></html>
